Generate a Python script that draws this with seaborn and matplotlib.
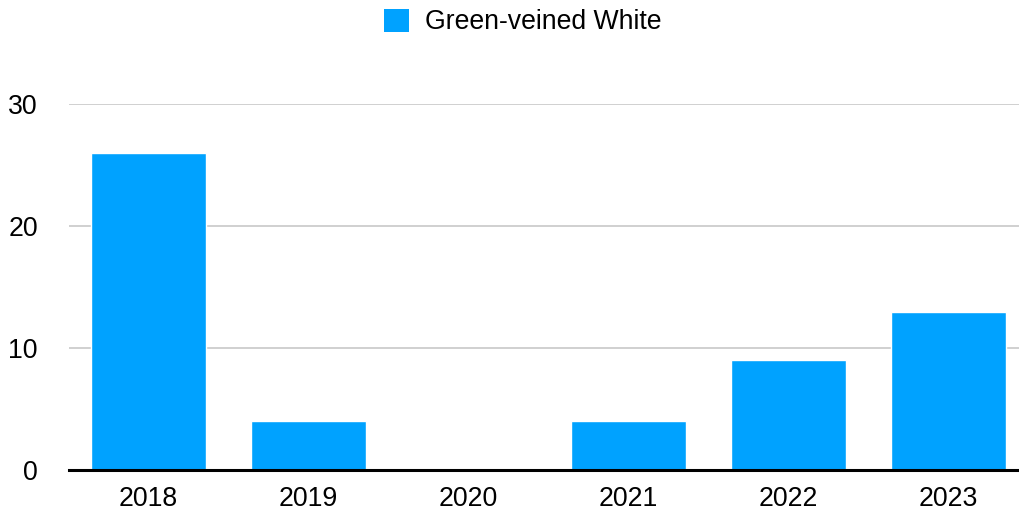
import matplotlib
matplotlib.use("Agg")
import matplotlib.pyplot as plt
from matplotlib.patches import Patch
import seaborn as sns

# Yearly counts
years = ["2018", "2019", "2020", "2021", "2022", "2023"]
counts = [26, 4, 0, 4, 9, 13]
series_name = "Green-veined White"
y_ticks = [0, 10, 20, 30]

BAR_COLOR = "#00A2FF"

sns.set_theme(style="white")
plt.rcParams["font.family"] = ["Liberation Sans", "DejaVu Sans"]
plt.rcParams["text.color"] = "black"

W, H = 1019, 512
fig = plt.figure(figsize=(W / 100, H / 100), dpi=100)
left, right, bottom, top = 68.5, 1019, 470, 104.3
ax = fig.add_axes([left / W, (H - bottom) / H, (right - left) / W, (bottom - top) / H])

sns.barplot(x=years, y=counts, color=BAR_COLOR, width=0.72, saturation=1,
            ax=ax, zorder=3)

ax.set_xlim(-0.5, (right - 148.5) / 160)
ax.set_ylim(0, 30)
ax.set_yticks(y_ticks)
ax.set_xlabel("")
ax.set_ylabel("")

ax.yaxis.grid(True, color="#c4c4c4", linewidth=1.1, zorder=0)
ax.xaxis.grid(False)
for s in ["top", "right", "left"]:
    ax.spines[s].set_visible(False)
ax.spines["bottom"].set_color("black")
ax.spines["bottom"].set_linewidth(2.2)
ax.spines["bottom"].set_zorder(4)

ax.tick_params(axis="both", length=0, labelsize=19.2, colors="black")
ax.tick_params(axis="y", pad=22)
ax.tick_params(axis="x", pad=11.5)

handle = Patch(facecolor=BAR_COLOR, edgecolor="none")
fig.legend([handle], [series_name], loc="center",
           bbox_to_anchor=(523 / W, 1 - 22 / H), frameon=False,
           fontsize=19.2, handlelength=0.95, handleheight=0.95,
           handletextpad=0.6, borderpad=0, labelcolor="black")

fig.savefig("out.png", dpi=100)
